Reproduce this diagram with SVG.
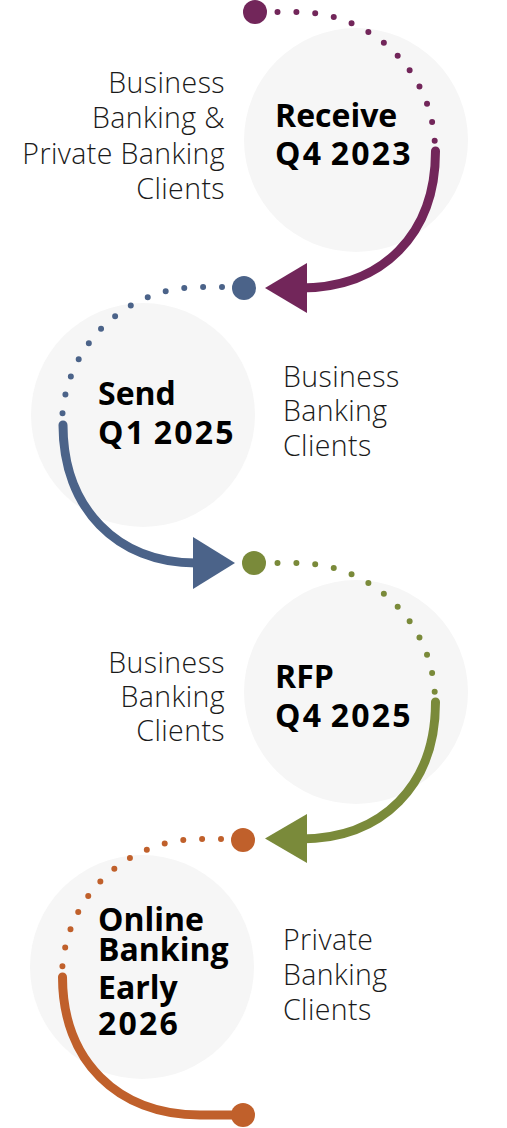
<svg xmlns="http://www.w3.org/2000/svg" width="507" height="1128" viewBox="0 0 507 1128">
<style>
.bg{fill:#f6f6f6}
.lt{font-family:"Open Sans","Liberation Sans",sans-serif;font-size:28.5px;font-weight:350;letter-spacing:0.4px;fill:#1a1a1a}
.bd{font-family:"Open Sans","Liberation Sans",sans-serif;font-size:32px;font-weight:700;fill:#000}
.num{letter-spacing:2.2px;word-spacing:-3px}
.r{text-anchor:end}
.dot{fill:none;stroke-width:6;stroke-linecap:round;stroke-dasharray:0 18.9}
.sol{fill:none;stroke-width:9;stroke-linecap:round}
.pu{stroke:#72265a}.bl{stroke:#4b6389}.gr{stroke:#7a8a3a}.or{stroke:#c0602b}
.fpu{fill:#72265a}.fbl{fill:#4b6389}.fgr{fill:#7a8a3a}.for{fill:#c0602b}
</style>
<g id="node-receive">
<circle class="bg" cx="356" cy="140" r="112"/>
<text class="bd" x="275" y="127">Receive</text>
<text class="bd num" x="275" y="165">Q4 2023</text>
<text class="lt r" x="225" y="93">Business</text>
<text class="lt r" x="225" y="128">Banking &amp;</text>
<text class="lt r" x="225" y="164">Private Banking</text>
<text class="lt r" x="225" y="199">Clients</text>
</g>
<g id="node-send">
<circle class="bg" cx="143" cy="415" r="112"/>
<text class="bd" x="98" y="405">Send</text>
<text class="bd num" x="98" y="444">Q1 2025</text>
<text class="lt" x="283" y="387">Business</text>
<text class="lt" x="283" y="421">Banking</text>
<text class="lt" x="283" y="456">Clients</text>
</g>
<g id="node-rfp">
<circle class="bg" cx="356" cy="692" r="112"/>
<text class="bd" x="275" y="688">RFP</text>
<text class="bd num" x="275" y="727">Q4 2025</text>
<text class="lt r" x="225" y="673">Business</text>
<text class="lt r" x="225" y="707">Banking</text>
<text class="lt r" x="225" y="741">Clients</text>
</g>
<g id="node-online">
<circle class="bg" cx="142" cy="967" r="112"/>
<text class="bd" x="98" y="931">Online</text>
<text class="bd" x="98" y="961">Banking</text>
<text class="bd" x="98" y="999">Early</text>
<text class="bd num" x="98" y="1035">2026</text>
<text class="lt" x="283" y="950">Private</text>
<text class="lt" x="283" y="985">Banking</text>
<text class="lt" x="283" y="1020">Clients</text>
</g>
<g id="connectors">
<path class="dot pu" d="M 277.5 12 L 297 12 A 138 138 0 0 1 435 150"/>
<path class="sol pu" d="M 435.5 151 C 435.5 234 383 288 300 288"/>
<polygon class="fpu" points="307,263 307,313 265,288"/>
<circle class="fpu" cx="255" cy="12" r="12"/>
<path class="dot bl" d="M 222 287 L 200 287 A 138 138 0 0 0 62 425"/>
<path class="sol bl" d="M 63 425 C 63 508 117 563 196 563"/>
<polygon class="fbl" points="193,537 193,589 235,563"/>
<circle class="fbl" cx="244" cy="288" r="12"/>
<path class="dot gr" d="M 277.5 563 L 297 563 A 138 138 0 0 1 435 701"/>
<path class="sol gr" d="M 435.5 702 C 435.5 785 383 839 300 839"/>
<polygon class="fgr" points="307,814 307,863 265,838.5"/>
<circle class="fgr" cx="254" cy="563" r="12"/>
<path class="dot or" d="M 221 839 L 200 839 A 138 138 0 0 0 62 977"/>
<path class="sol or" d="M 62.5 977 C 62.5 1060 117 1115 200 1115 L 243 1115"/>
<circle class="for" cx="243" cy="840" r="12"/>
<circle class="for" cx="243" cy="1115" r="12"/>
</g>
</svg>
